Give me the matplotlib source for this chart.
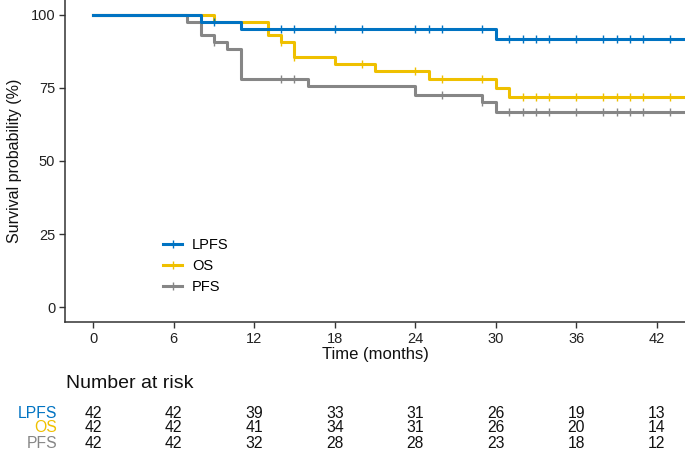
import numpy as np
import matplotlib
matplotlib.use("Agg")
import matplotlib.pyplot as plt

plt.rcParams['font.family'] = ['Liberation Sans', 'DejaVu Sans']

# --- data ---
groups = ['LPFS', 'OS', 'PFS']
colors = ['#0073C2', '#EFC000', '#868686']

lpfs_t = [0, 8, 11, 30]
lpfs_s = [100, 97.6, 95.1, 91.7]
lpfs_cens = [9, 14, 15, 18, 20, 24, 25, 26, 29, 31, 32, 33, 34, 36, 38, 39, 40, 41, 43]

os_t = [0, 9, 13, 14, 15, 18, 21, 25, 30, 31]
os_s = [100, 97.6, 93.0, 90.5, 85.6, 83.3, 80.7, 77.9, 74.8, 71.9]
os_cens = [14, 15, 20, 24, 26, 29, 32, 33, 34, 36, 38, 39, 40, 41, 43]

pfs_t = [0, 7, 8, 9, 10, 11, 16, 24, 29, 30]
pfs_s = [100, 97.6, 92.9, 90.5, 88.1, 78.1, 75.5, 72.7, 70.0, 66.8]
pfs_cens = [9, 14, 15, 26, 29, 31, 32, 33, 34, 36, 38, 39, 40, 41, 43]

risk_times = [0, 6, 12, 18, 24, 30, 36, 42]
risk_lpfs = [42, 42, 39, 33, 31, 26, 19, 13]
risk_os = [42, 42, 41, 34, 31, 26, 20, 14]
risk_pfs = [42, 42, 32, 28, 28, 23, 18, 12]

t_end = 44.1
xlim = (-2.1, 44.1)

fig = plt.figure(figsize=(6.85, 4.51), dpi=100)
W, H = 685, 451
ax = fig.add_axes([65 / W, 1 - 322 / H, 620 / W, 322 / H])

series = [(lpfs_t, lpfs_s, lpfs_cens), (os_t, os_s, os_cens), (pfs_t, pfs_s, pfs_cens)]
# draw gray first so blue/yellow sit on top like the reference
for idx in [2, 1, 0]:
    t, s, cens = series[idx]
    tt = list(t) + [t_end]
    ss = list(s) + [s[-1]]
    ax.plot(tt, ss, drawstyle='steps-post', color=colors[idx], lw=2.2, zorder=3)
    cy = [s[np.searchsorted(t, c, side='right') - 1] for c in cens]
    ax.plot(cens, cy, ls='none', marker='|', ms=6, mew=1.0, color=colors[idx], zorder=4)

ax.set_xlim(*xlim)
ax.set_ylim(-5, 105)
ax.set_xticks(risk_times)
ax.set_yticks([0, 25, 50, 75, 100])
for sp in ['top', 'right']:
    ax.spines[sp].set_visible(False)
for sp in ['left', 'bottom']:
    ax.spines[sp].set_color('#333333')
    ax.spines[sp].set_linewidth(1.1)
ax.tick_params(direction='out', length=4, width=1, color='#333333', labelsize=10.5,
               labelcolor='#222222', pad=3)
ax.set_xlabel('Time (months)', fontsize=12, color='#111111', labelpad=1)
ax.set_ylabel('Survival probability (%)', fontsize=11.5, color='#111111', labelpad=6)

# legend
handles = [plt.Line2D([], [], color=c, lw=2.2, marker='|', ms=6, mew=1.0) for c in colors]
ax.legend(handles, groups, loc='center left', bbox_to_anchor=(0.137, 0.174),
          frameon=False, fontsize=10.5, handlelength=1.3, handletextpad=0.7,
          labelspacing=0.5)

# risk table
fig.text(66 / W, 1 - 384 / H, 'Number at risk', fontsize=14, va='center', ha='left', color='#111111')
rows = [risk_lpfs, risk_os, risk_pfs]
row_y = [413, 428, 443]
for i, (vals, yp) in enumerate(zip(rows, row_y)):
    yf = 1 - yp / H
    fig.text(57 / W, yf, groups[i], color=colors[i], fontsize=11.3, ha='right', va='center')
    for xt, v in zip(risk_times, vals):
        xf = fig.transFigure.inverted().transform(ax.transData.transform((xt, 0)))[0]
        fig.text(xf, yf, str(v), fontsize=11.3, ha='center', va='center', color='#111111')

fig.savefig('out.png', dpi=100)
